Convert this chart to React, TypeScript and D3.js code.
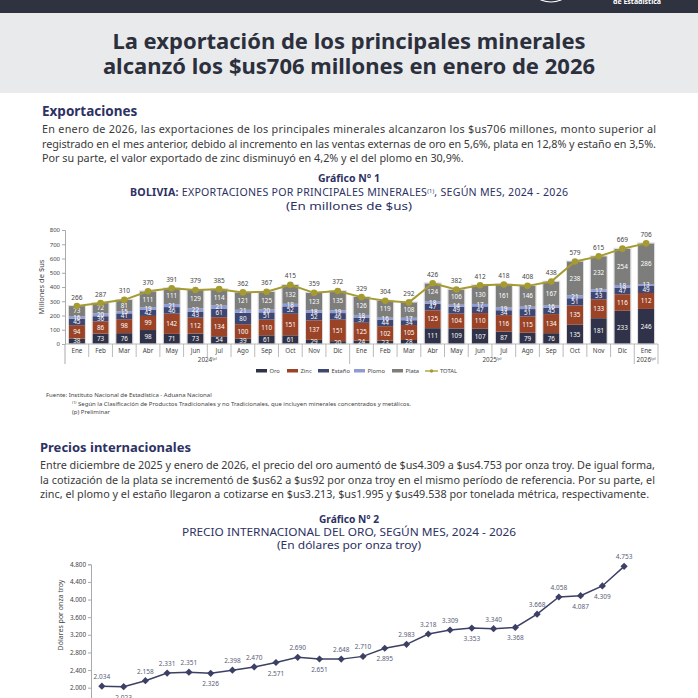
import * as d3 from 'd3';
import { useEffect, useRef } from 'react';

// --- Gráfico 1: exportaciones por mineral (millones de $us) ---
const months = ['Ene', 'Feb', 'Mar', 'Abr', 'May', 'Jun', 'Jul', 'Ago', 'Sep', 'Oct', 'Nov', 'Dic',
    'Ene', 'Feb', 'Mar', 'Abr', 'May', 'Jun', 'Jul', 'Ago', 'Sep', 'Oct', 'Nov', 'Dic', 'Ene'];
const years = ['2024', '2024', '2024', '2024', '2024', '2024', '2024', '2024', '2024', '2024', '2024', '2024',
    '2025', '2025', '2025', '2025', '2025', '2025', '2025', '2025', '2025', '2025', '2025', '2025', '2026'];
const oro = [38, 73, 76, 98, 71, 73, 54, 39, 61, 61, 29, 20, 24, 23, 28, 111, 109, 107, 87, 79, 76, 135, 181, 233, 246];
const zinc = [94, 86, 98, 99, 142, 112, 134, 100, 110, 151, 137, 151, 125, 102, 105, 125, 104, 110, 116, 115, 134, 135, 133, 116, 112];
const estano = [45, 36, 41, 42, 46, 43, 61, 80, 51, 52, 52, 46, 37, 44, 34, 47, 49, 47, 34, 51, 45, 51, 53, 47, 49];
const plomo = [16, 20, 15, 19, 21, 22, 21, 21, 20, 18, 18, 19, 18, 16, 17, 18, 14, 17, 19, 17, 16, 21, 17, 18, 13];
const plata = [73, 72, 81, 111, 111, 129, 114, 121, 125, 132, 123, 135, 126, 119, 108, 124, 106, 130, 161, 146, 167, 238, 232, 254, 286];
const total = [266, 287, 310, 370, 391, 379, 385, 362, 367, 415, 359, 372, 329, 304, 292, 426, 382, 412, 418, 408, 438, 579, 615, 669, 706];
const mineralKeys = ['oro', 'zinc', 'estano', 'plomo', 'plata'];
const mineralNames = ['Oro', 'Zinc', 'Estaño', 'Plomo', 'Plata'];

// --- Gráfico 2: precio internacional del oro ($us por onza troy) ---
const goldPrice = [2034, 2023, 2158, 2331, 2351, 2326, 2398, 2470, 2571, 2690, 2651, 2648,
    2710, 2895, 2983, 3218, 3309, 3353, 3340, 3368, 3668, 4058, 4087, 4309, 4753];

const colors: Record<string, string> = {
    oro: '#2f3248', zinc: '#9a4327', estano: '#3e4672', plomo: '#8f9bd3', plata: '#7d7d7b', total: '#a59b30'
};
const FONT = '"Noto Sans", sans-serif';
const NAVY = '#2d3163';
const TEXT = '#3a3a3a';

function App() {
    const ref = useRef<SVGSVGElement>(null);

    useEffect(() => {
        document.body.style.margin = '0';
        const svg = d3.select(ref.current);
        svg.selectAll('*').remove();
        svg.attr('font-family', FONT);

        // header
        svg.append('rect').attr('width', 698).attr('height', 13).attr('fill', '#2f3340');
        svg.append('ellipse').attr('cx', 551).attr('cy', -4).attr('rx', 13).attr('ry', 6)
            .attr('fill', 'none').attr('stroke', '#fff').attr('stroke-width', 1.2);
        svg.append('text').attr('x', 613).attr('y', 4).attr('font-size', 7).attr('font-weight', 700)
            .attr('fill', '#fff').text('de Estadística');
        svg.append('rect').attr('y', 13).attr('width', 698).attr('height', 80).attr('fill', '#e9eaec');
        const title = ['La exportación de los principales minerales', 'alcanzó los $us706 millones en enero de 2026'];
        title.forEach((t, i) => {
            svg.append('text').attr('x', 349).attr('y', 49 + i * 25).attr('text-anchor', 'middle')
                .attr('font-size', 22).attr('font-weight', 700).attr('fill', '#2c2f3c').text(t);
        });

        const paragraph = (lines: string[], x: number, y0: number, width: number) => {
            lines.forEach((t, i) => {
                const el = svg.append('text').attr('x', x).attr('y', y0 + i * 14.5)
                    .attr('font-size', 10.8).attr('fill', TEXT).text(t);
                if (i < lines.length - 1) el.attr('textLength', width).attr('lengthAdjust', 'spacing');
            });
        };
        const centered = (t: string, y: number, size: number, weight: number, width: number) =>
            svg.append('text').attr('x', 349).attr('y', y).attr('text-anchor', 'middle').attr('font-size', size)
                .attr('font-weight', weight).attr('fill', NAVY).attr('textLength', width)
                .attr('lengthAdjust', 'spacingAndGlyphs').text(t);

        svg.append('text').attr('x', 42).attr('y', 116).attr('font-size', 13.5).attr('font-weight', 700)
            .attr('fill', NAVY).text('Exportaciones');
        paragraph([
            'En enero de 2026, las exportaciones de los principales minerales alcanzaron los $us706 millones, monto superior al',
            'registrado en el mes anterior, debido al incremento en las ventas externas de oro en 5,6%, plata en 12,8% y estaño en 3,5%.',
            'Por su parte, el valor exportado de zinc disminuyó en 4,2% y el del plomo en 30,9%.'
        ], 42, 133, 614);

        centered('Gráfico N° 1', 182, 10.8, 700, 62);
        const st1 = svg.append('text').attr('x', 349).attr('y', 196).attr('text-anchor', 'middle')
            .attr('font-size', 10.6).attr('fill', NAVY).attr('textLength', 438).attr('lengthAdjust', 'spacing');
        st1.append('tspan').attr('font-weight', 700).text('BOLIVIA:');
        st1.append('tspan').text(' EXPORTACIONES POR PRINCIPALES MINERALES');
        st1.append('tspan').attr('font-size', 5.5).attr('dy', -3.5).text('(1)');
        st1.append('tspan').attr('dy', 3.5).text(', SEGÚN MES, 2024 - 2026');
        centered('(En millones de $us)', 210, 11, 400, 126);

        // ---------- chart 1 ----------
        const rows = months.map((m, i) => ({
            i: String(i), oro: oro[i], zinc: zinc[i], estano: estano[i], plomo: plomo[i], plata: plata[i]
        }));
        const x1 = d3.scaleBand().domain(rows.map(r => r.i)).range([65, 658]).paddingInner(0.32).paddingOuter(0.16);
        const y1 = d3.scaleLinear().domain([0, 800]).range([344, 230]);
        const stack = d3.stack<any>().keys(mineralKeys)(rows);

        const yAx1 = svg.append('g').attr('transform', 'translate(65,0)')
            .call(d3.axisLeft(y1).tickValues(d3.range(0, 801, 100)).tickSize(3).tickPadding(2));
        yAx1.select('.domain').attr('stroke', '#aaa');
        yAx1.selectAll('line').attr('stroke', '#aaa');
        yAx1.selectAll('text').attr('font-size', 6).attr('fill', '#444').attr('font-family', FONT);
        svg.append('line').attr('x1', 65).attr('x2', 65).attr('y1', 344).attr('y2', 364).attr('stroke', '#aaa');

        svg.append('text').attr('transform', 'translate(44,287) rotate(-90)').attr('text-anchor', 'middle')
            .attr('font-size', 7.5).attr('fill', '#444').text('Millones de $us');

        const layers = svg.append('g').selectAll('g').data(stack).join('g')
            .attr('fill', d => colors[d.key]);
        layers.selectAll('rect').data(d => d).join('rect')
            .attr('x', d => x1(d.data.i)!)
            .attr('y', d => y1(d[1]))
            .attr('width', x1.bandwidth())
            .attr('height', d => y1(d[0]) - y1(d[1]));
        svg.append('g').selectAll('rect').data(rows).join('rect')
            .attr('x', d => x1(d.i)! - 0.5).attr('y', (d, i) => y1(total[i]) - 0.5)
            .attr('width', x1.bandwidth() + 1).attr('height', (d, i) => 344 - y1(total[i]) + 0.5)
            .attr('fill', 'none').attr('stroke', '#d8d8d8').attr('stroke-width', 0.8);

        const labels = svg.append('g').attr('font-size', 6.3).attr('fill', '#fff').attr('text-anchor', 'middle');
        stack.forEach(layer => {
            labels.append('g').selectAll('text').data(layer).join('text')
                .attr('x', d => x1(d.data.i)! + x1.bandwidth() / 2)
                .attr('y', d => (y1(d[0]) + y1(d[1])) / 2 + 2.2)
                .text(d => d[1] - d[0]);
        });

        // x axis
        svg.append('line').attr('x1', 65).attr('x2', 658).attr('y1', 344).attr('y2', 344).attr('stroke', '#bbb');
        const step = x1.step();
        d3.range(1, 26).forEach(k => {
            const bx = 65 + k * step;
            const long = k === 12 || k === 24 || k === 25;
            svg.append('line').attr('x1', bx).attr('x2', bx).attr('y1', 344).attr('y2', long ? 364 : 357)
                .attr('stroke', '#aaa').attr('stroke-width', 0.8);
        });
        svg.append('g').selectAll('text').data(rows).join('text')
            .attr('x', d => x1(d.i)! + x1.bandwidth() / 2).attr('y', 353).attr('text-anchor', 'middle')
            .attr('font-size', 6.3).attr('fill', '#444').text((d, i) => months[i]);
        d3.groups(rows.map((r, i) => ({ i: r.i, year: years[i] })), d => d.year).forEach(([yr, list]) => {
            const cx = d3.mean(list, d => x1(d.i)! + x1.bandwidth() / 2)!;
            const t = svg.append('text').attr('x', cx).attr('y', 362).attr('text-anchor', 'middle')
                .attr('font-size', 6.3).attr('fill', '#444');
            t.append('tspan').text(yr);
            t.append('tspan').attr('font-size', 3.8).attr('dy', -2.5).text('(p)');
        });

        // total line
        const line1 = d3.line<number>().x((d, i) => x1(String(i))! + x1.bandwidth() / 2).y(d => y1(d));
        svg.append('path').datum(total).attr('d', line1).attr('fill', 'none')
            .attr('stroke', colors.total).attr('stroke-width', 2);
        svg.append('g').selectAll('circle').data(total).join('circle')
            .attr('cx', (d, i) => x1(String(i))! + x1.bandwidth() / 2).attr('cy', d => y1(d)).attr('r', 3.3)
            .attr('fill', colors.total);
        svg.append('g').selectAll('text').data(total).join('text')
            .attr('x', (d, i) => x1(String(i))! + x1.bandwidth() / 2).attr('y', d => y1(d) - 6.5)
            .attr('text-anchor', 'middle').attr('font-size', 6.5).attr('fill', '#444').text(d => d);

        // legend
        const legend = svg.append('g').attr('font-size', 5.8).attr('fill', '#444');
        const legendX = [256, 287, 318, 354, 392];
        mineralKeys.forEach((k, i) => {
            legend.append('rect').attr('x', legendX[i]).attr('y', 369).attr('width', 11).attr('height', 3.5)
                .attr('fill', colors[k]);
            legend.append('text').attr('x', legendX[i] + 13.5).attr('y', 373).text(mineralNames[i]);
        });
        legend.append('line').attr('x1', 425).attr('x2', 438).attr('y1', 371).attr('y2', 371)
            .attr('stroke', colors.total).attr('stroke-width', 1.3);
        legend.append('circle').attr('cx', 431.5).attr('cy', 371).attr('r', 1.8).attr('fill', colors.total);
        legend.append('text').attr('x', 440).attr('y', 373).text('TOTAL');

        // notes
        const notes = svg.append('g').attr('font-size', 6).attr('fill', '#444');
        notes.append('text').attr('x', 46).attr('y', 397).text('Fuente: Instituto Nacional de Estadística - Aduana Nacional');
        const n2 = notes.append('text').attr('x', 72).attr('y', 405.5);
        n2.append('tspan').attr('font-size', 3.8).attr('dy', -2).text('(1)');
        n2.append('tspan').attr('dy', 2).text(' Según la Clasificación de Productos Tradicionales y no Tradicionales, que incluyen minerales concentrados y metálicos.');
        notes.append('text').attr('x', 72).attr('y', 414).text('(p) Preliminar');

        // ---------- section 2 ----------
        svg.append('text').attr('x', 40).attr('y', 452).attr('font-size', 13).attr('font-weight', 700)
            .attr('fill', NAVY).text('Precios internacionales');
        paragraph([
            'Entre diciembre de 2025 y enero de 2026, el precio del oro aumentó de $us4.309 a $us4.753 por onza troy. De igual forma,',
            'la cotización de la plata se incrementó de $us62 a $us92 por onza troy en el mismo período de referencia. Por su parte, el',
            'zinc, el plomo y el estaño llegaron a cotizarse en $us3.213, $us1.995 y $us49.538 por tonelada métrica, respectivamente.'
        ], 40, 469, 615);

        centered('Gráfico N° 2', 523, 10.8, 700, 60);
        centered('PRECIO INTERNACIONAL DEL ORO, SEGÚN MES, 2024 - 2026', 536, 10.6, 400, 334);
        centered('(En dólares por onza troy)', 549, 11, 400, 144);

        // ---------- chart 2 ----------
        const x2 = d3.scalePoint<number>().domain(d3.range(goldPrice.length)).range([91, 635]).padding(0.5);
        const y2 = d3.scaleLinear().domain([1600, 4800]).range([705.3, 564.3]);
        const yAx2 = svg.append('g').attr('transform', 'translate(91,0)')
            .call(d3.axisLeft(y2).tickValues(d3.range(1600, 4801, 400)).tickSize(3).tickPadding(2)
                .tickFormat(d => d3.format(',')(d as number).replace(/,/g, '.')));
        yAx2.select('.domain').attr('stroke', '#aaa');
        yAx2.selectAll('line').attr('stroke', '#aaa');
        yAx2.selectAll('text').attr('font-size', 6.3).attr('fill', '#444').attr('font-family', FONT);
        svg.append('text').attr('transform', 'translate(63,615) rotate(-90)').attr('text-anchor', 'middle')
            .attr('font-size', 7).attr('fill', '#444').text('Dólares por onza troy');

        const line2 = d3.line<number>().x((d, i) => x2(i)!).y(d => y2(d));
        svg.append('path').datum(goldPrice).attr('d', line2).attr('fill', 'none')
            .attr('stroke', '#3c4064').attr('stroke-width', 1.5);
        svg.append('g').selectAll('path').data(goldPrice).join('path')
            .attr('d', d3.symbol(d3.symbolSquare, 26)())
            .attr('transform', (d, i) => `translate(${x2(i)},${y2(d)}) rotate(45)`)
            .attr('fill', '#3c4064');
        const below = new Set([1, 5, 8, 10, 13, 17, 19, 22, 23]);
        svg.append('g').selectAll('text').data(goldPrice).join('text')
            .attr('x', (d, i) => x2(i)!).attr('y', (d, i) => y2(d) + (below.has(i) ? 13 : -7))
            .attr('text-anchor', 'middle').attr('font-size', 6.5).attr('fill', '#585d78')
            .text(d => d3.format(',')(d).replace(/,/g, '.'));

        return () => {
            svg.selectAll('*').remove();
        };
    }, []);

    return (
        <div style={{ position: 'absolute', left: 0, top: 0 }}>
            <svg ref={ref} width={698} height={698} style={{ display: 'block', background: '#fff' }} />
        </div>
    );
}

export default App;
